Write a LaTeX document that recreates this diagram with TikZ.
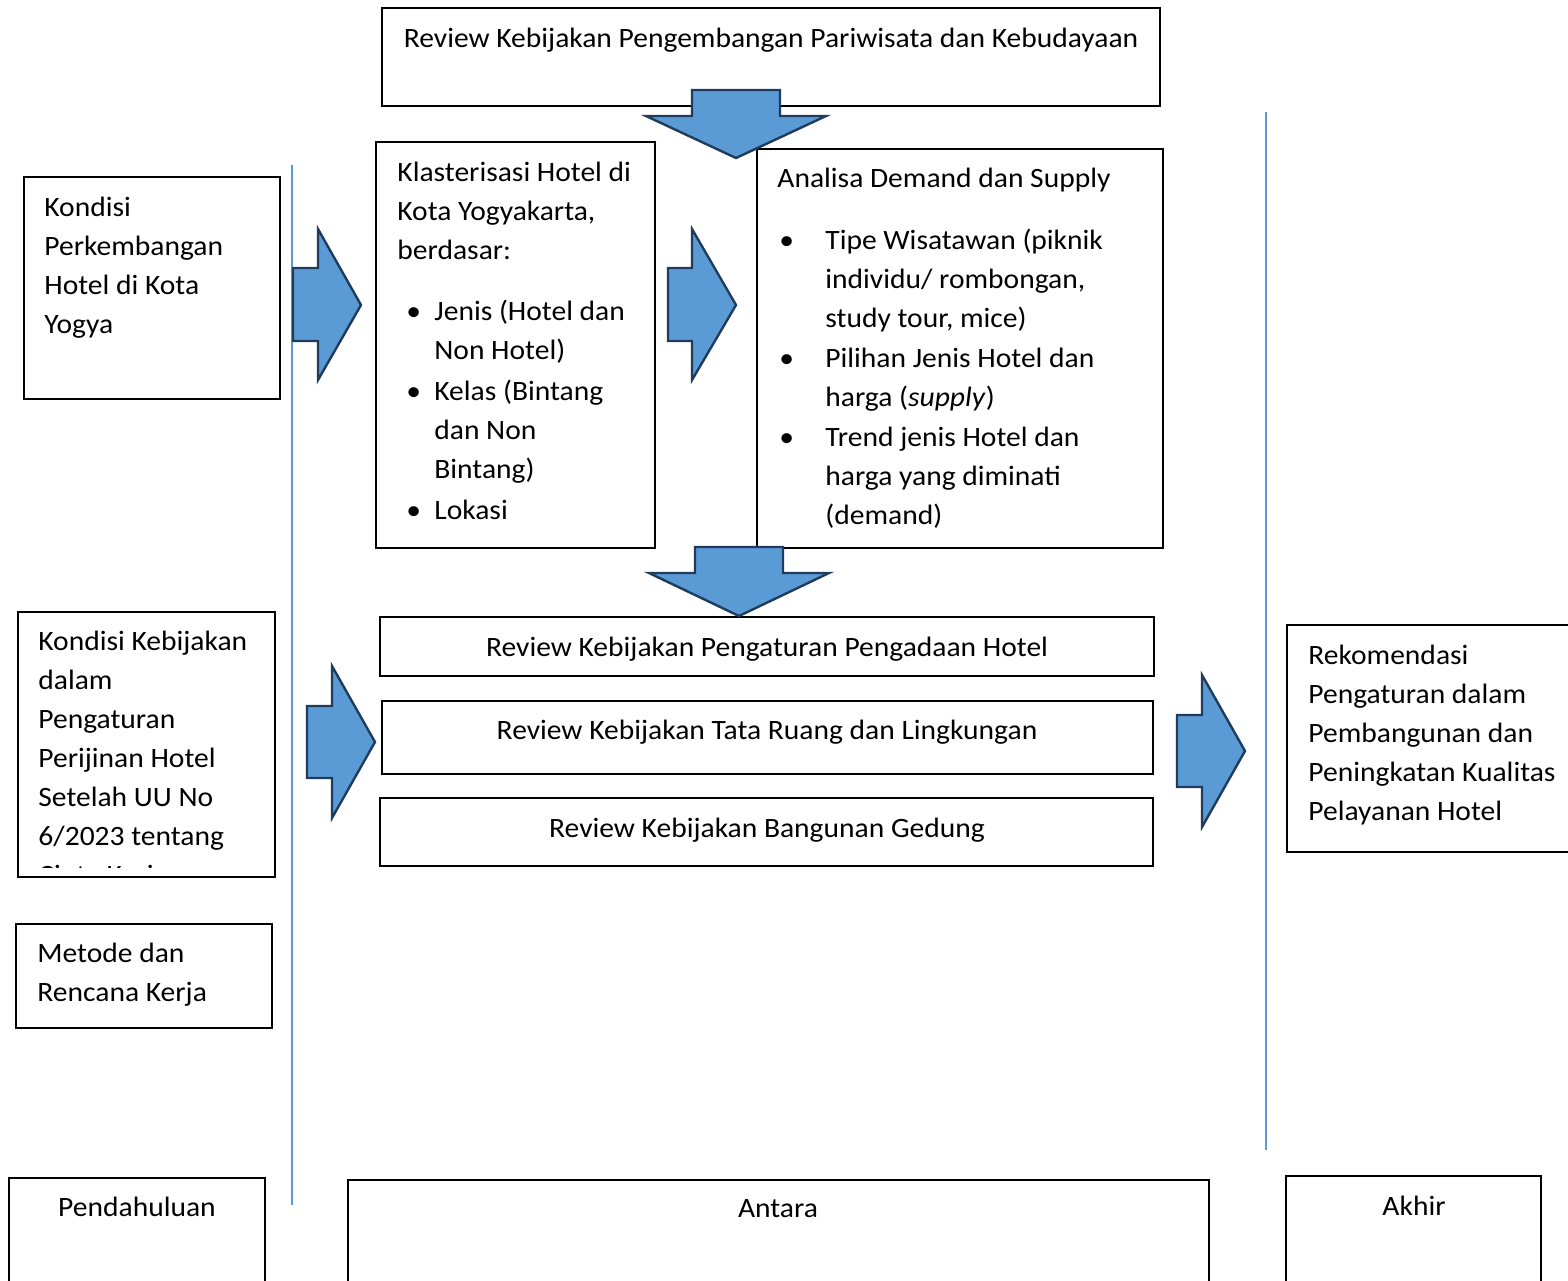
\documentclass[tikz,border=0pt]{standalone}
\usepackage{fontspec}
\setmainfont{Carlito}[FakeStretch=1.055]
\usepackage{tikz}
\usetikzlibrary{fit}
\definecolor{arrowfill}{HTML}{5B9BD5}
\definecolor{arrowline}{HTML}{203C5C}
\definecolor{guideblue}{HTML}{5B9BD5}
\tikzset{
  box/.style={draw=black, line width=0.7pt, inner sep=0pt},
  txt/.style={inner sep=0pt, align=left, anchor=north west, font=\fontsize{14pt}{19.5pt}\selectfont},
  ctxt/.style={inner sep=0pt, anchor=north, font=\fontsize{14pt}{19.5pt}\selectfont},
  bigarrow/.style={fill=arrowfill, draw=arrowline, line width=1.2pt, line join=miter},
  guide/.style={draw=guideblue, line width=0.6pt}
}
\newcommand{\bul}[1]{\makebox[#1][l]{\textbullet}}

\begin{document}
\begin{tikzpicture}[x=0.5pt, y=-0.5pt]
    \clip (0,0) rectangle (1568,1280);
    \fill[white] (0,0) rectangle (1568,1280);

    % boxes
    \node[box, fit={(382,8) (1160,106)}] (review) {};
    \node[box, fit={(24,177) (280,399)}] (hotel) {};
    \node[box, fit={(376,142) (655,548)}] (klaster) {};
    \node[box, fit={(757,149) (1163,548)}] (analisa) {};
    \node[box, fit={(18,612) (275,877)}] (kebijakan) {};
    \node[box, fit={(380,617) (1154,676)}] (pengadaan) {};
    \node[box, fit={(382,701) (1153,774)}] (tataruang) {};
    \node[box, fit={(380,798) (1153,866)}] (gedung) {};
    \node[box, fit={(1287,625) (1575,852)}] (rekom) {};
    \node[box, fit={(16,924) (272,1028)}] (metode) {};
    \node[box, fit={(9,1178) (265,1290)}] (awal) {};
    \node[box, fit={(348,1180) (1209,1290)}] (antara) {};
    \node[box, fit={(1286,1176) (1541,1290)}] (akhir) {};

    % guide lines
    \draw[guide] (292,165) -- (292,1205);
    \draw[guide] (1266,112) -- (1266,1150);

    % texts
    \node[ctxt] (reviewtxt) at (771,28) {Review Kebijakan Pengembangan Pariwisata dan Kebudayaan};
    \node[txt] (hoteltxt) at (44,197) {Kondisi\\Perkembangan\\Hotel di Kota\\Yogya};
    \node[txt] (klastertxt) at (397,162) {Klasterisasi Hotel di\\Kota Yogyakarta,\\berdasar:};
    \node[txt] (klasterlist) at (406,300) {\bul{14pt}Jenis (Hotel dan\\\hspace*{14pt}Non Hotel)\\[1pt]
      \bul{14pt}Kelas (Bintang\\\hspace*{14pt}dan Non\\\hspace*{14pt}Bintang)\\[1pt]
      \bul{14pt}Lokasi};
    \node[txt] (analisatxt) at (777,168) {Analisa Demand dan Supply};
    \node[txt] (analisalist) at (779,229) {\bul{23pt}Tipe Wisatawan (piknik\\\hspace*{23pt}individu/ rombongan,\\\hspace*{23pt}study tour, mice)\\[0.5pt]
      \bul{23pt}Pilihan Jenis Hotel dan\\\hspace*{23pt}harga (\textit{supply})\\[0.5pt]
      \bul{23pt}Trend jenis Hotel dan\\\hspace*{23pt}harga yang diminati\\\hspace*{23pt}(demand)};
    \begin{scope}
      \clip (18,612) rectangle (275,867);
      \node[txt] (kebijakantxt) at (38,631) {Kondisi Kebijakan\\dalam\\Pengaturan\\Perijinan Hotel\\Setelah UU No\\6/2023 tentang\\Cipta Kerja};
    \end{scope}
    \node[ctxt] (pengadaantxt) at (767,637) {Review Kebijakan Pengaturan Pengadaan Hotel};
    \node[ctxt] (tataruangtxt) at (767,720) {Review Kebijakan Tata Ruang dan Lingkungan};
    \node[ctxt] (gedungtxt) at (767,818) {Review Kebijakan Bangunan Gedung};
    \node[txt] (rekomtxt) at (1308,645) {Rekomendasi\\Pengaturan dalam\\Pembangunan dan\\Peningkatan Kualitas\\Pelayanan Hotel};
    \node[txt] (metodetxt) at (37,943) {Metode dan\\Rencana Kerja};
    \node[ctxt] (awaltxt) at (137,1197) {Pendahuluan};
    \node[ctxt] (antaratxt) at (778,1199) {Antara};
    \node[ctxt] (akhirtxt) at (1414,1196) {Akhir};

    % block arrows
    \draw[bigarrow] (692,90) -- (780,90) -- (780,116) -- (826,116) -- (736,158) -- (646,116) -- (692,116) -- cycle;
    \draw[bigarrow] (293,268) -- (318,268) -- (318,229) -- (361,305) -- (318,380) -- (318,341) -- (293,341) -- cycle;
    \draw[bigarrow] (668,268) -- (692,268) -- (692,229) -- (736,305) -- (692,380) -- (692,341) -- (668,341) -- cycle;
    \draw[bigarrow] (695,547) -- (783,547) -- (783,573) -- (829,573) -- (739,616) -- (649,573) -- (695,573) -- cycle;
    \draw[bigarrow] (307,706) -- (332,706) -- (332,666) -- (375,742) -- (332,818) -- (332,778) -- (307,778) -- cycle;
    \draw[bigarrow] (1177,715) -- (1202,715) -- (1202,675) -- (1245,751) -- (1202,827) -- (1202,787) -- (1177,787) -- cycle;
\end{tikzpicture}
\end{document}
